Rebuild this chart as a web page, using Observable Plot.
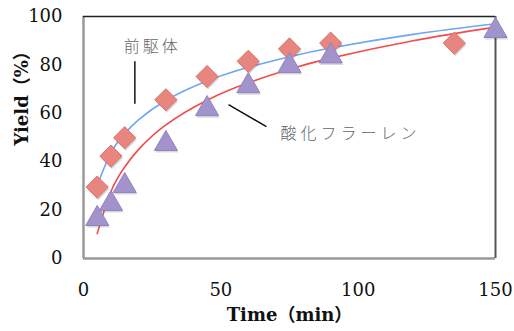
<!DOCTYPE html>
<html>
<head>
<meta charset="utf-8">
<script src="https://cdn.jsdelivr.net/npm/d3@7"></script>
<script src="https://cdn.jsdelivr.net/npm/@observablehq/plot@0.6"></script>
<style>
  body { margin: 0; background: #fff; }
</style>
</head>
<body>
<div id="chart"></div>
<script>
// Data: precursor (diamonds) and fullerene oxide (triangles)
const precursorTime = [5, 10, 15, 30, 45, 60, 75, 90, 135];
const precursorYield = [29.5, 42.3, 49.9, 65.6, 75.2, 81.5, 86.6, 89, 89];
const oxideTime = [5, 10, 15, 30, 45, 60, 75, 90, 150];
const oxideYield = [16.4, 22.6, 30, 47.4, 61.8, 71.3, 79.6, 83.6, 94.1];

// Trend curves
const curveTime = [5, 10, 15, 20, 30, 45, 60, 75, 90, 120, 150];
const precursorCurve = [30.0, 43.7, 51.6, 57.3, 65.3, 73.3, 79.0, 83.4, 87.0, 92.6, 97.0];
const oxideCurve = [10.3, 27.7, 37.8, 45.0, 55.2, 65.4, 72.6, 78.2, 82.8, 90.0, 95.6];

const xTicks = [0, 50, 100, 150];
const yTicks = [0, 20, 40, 60, 80, 100];

const labels = ["前駆体", "酸化フラーレン"];
const xTitle = "Time（min）";
const yTitle = "Yield（%）";

const pre = precursorTime.map((t, i) => ({t, v: precursorYield[i]}));
const oxi = oxideTime.map((t, i) => ({t, v: oxideYield[i]}));
const preC = curveTime.map((t, i) => ({t, v: precursorCurve[i]}));
const oxiC = curveTime.map((t, i) => ({t, v: oxideCurve[i]}));

const annText = [
  {t: 25, v: 87.3, label: labels[0]},
  {t: 97.2, v: 51.7, label: labels[1]}
];
const annLinks = [
  {t1: 18.7, v1: 81.5, t2: 18.7, v2: 63.9},
  {t1: 52.8, v1: 63.6, t2: 66.6, v2: 54.5}
];

const serif = "'DejaVu Serif', 'Noto Sans CJK JP', serif";

const chart = Plot.plot({
  width: 514,
  height: 331,
  marginLeft: 83,
  marginRight: 19,
  marginTop: 16,
  marginBottom: 73,
  x: {domain: [0, 150]},
  y: {domain: [0, 100]},
  style: {fontFamily: serif, fontSize: "18px", color: "#111", background: "#fff"},
  marks: [
    Plot.axisX({ticks: xTicks, tickSize: 0, tickPadding: 25, label: null, tickFormat: d => String(d)}),
    Plot.axisY({ticks: yTicks, tickSize: 0, tickPadding: 21, label: null, tickFormat: d => String(d)}),
    Plot.ruleY([0], {stroke: "#999", strokeWidth: 2.5}),
    Plot.ruleX([0], {stroke: "#999", strokeWidth: 2.5}),
    Plot.ruleY([100], {stroke: "#222", strokeWidth: 1.5}),
    Plot.ruleX([150], {stroke: "#555", strokeWidth: 2}),
    Plot.line(preC, {x: "t", y: "v", stroke: "#6ea5f5", strokeWidth: 1.6, curve: "natural"}),
    Plot.line(oxiC, {x: "t", y: "v", stroke: "#f24b4b", strokeWidth: 1.6, curve: "natural"}),
    Plot.link(annLinks, {x1: "t1", y1: "v1", x2: "t2", y2: "v2", stroke: "#111", strokeWidth: 1.5}),
    Plot.dot(pre, {x: "t", y: "v", symbol: "diamond2", r: 10, fill: "#000", fillOpacity: 0.15, stroke: "none", dx: 1, dy: 2}),
    Plot.dot(oxi, {x: "t", y: "v", symbol: "triangle", r: 8.6, fill: "#000", fillOpacity: 0.15, stroke: "none", dx: 1, dy: 2}),
    Plot.dot(pre, {x: "t", y: "v", symbol: "diamond2", r: 10, fill: "#e8857e", stroke: "#d9736c", strokeWidth: 1}),
    Plot.dot(oxi, {x: "t", y: "v", symbol: "triangle", r: 8.6, fill: "#a393cc", stroke: "#9283bf", strokeWidth: 1}),
    Plot.text(annText, {x: "t", y: "v", text: "label", fontFamily: "'Noto Sans CJK JP', sans-serif", fontSize: 16, fontWeight: 300, fill: "#666"}),
    Plot.text([xTitle], {frameAnchor: "bottom", dy: 62, fontWeight: "bold", fontSize: 18, fill: "#111"}),
    Plot.text([yTitle], {frameAnchor: "left", dx: -61, dy: 8, rotate: -90, fontWeight: "bold", fontSize: 18, fill: "#111"})
  ]
});
// widen the spacing of the two Japanese annotations as in the reference
d3.select(chart).selectAll("text").each(function() {
  const s = this.textContent;
  if (s === labels[0]) this.setAttribute("letter-spacing", "3px");
  if (s === labels[1]) this.setAttribute("letter-spacing", "4px");
});
document.getElementById("chart").appendChild(chart);
</script>
</body>
</html>
